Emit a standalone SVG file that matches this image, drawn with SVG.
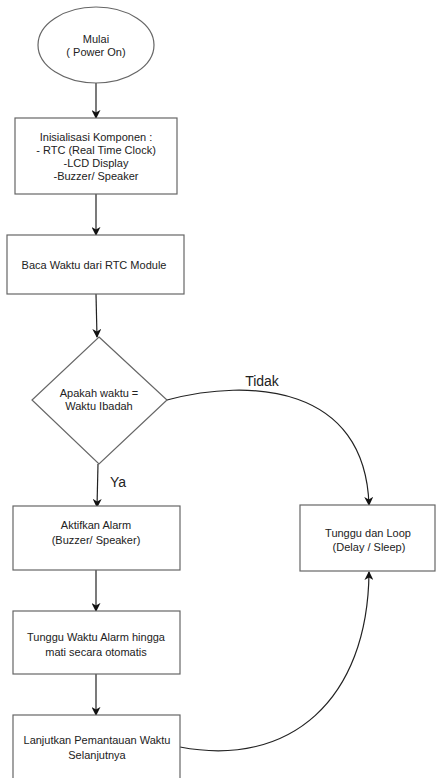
<svg xmlns="http://www.w3.org/2000/svg" width="436" height="778" viewBox="0 0 436 778">
<style>
.node{fill:#fff;stroke:#666;stroke-width:1.2}
.t{font-family:"Liberation Sans",Arial,sans-serif;font-size:11px;fill:#222;text-anchor:middle}
.lbl{font-family:"Liberation Sans",Arial,sans-serif;font-size:14px;fill:#222;text-anchor:middle}
.edge{fill:none;stroke:#222;stroke-width:1.2}
</style>
<defs>
<marker id="ah" viewBox="0 0 10 10" refX="9" refY="5" markerWidth="9" markerHeight="9" markerUnits="userSpaceOnUse" orient="auto">
<path d="M0,0 L10,5 L0,10 L3,5 Z" fill="#111"/>
</marker>
</defs>
<rect width="436" height="778" fill="#fff"/>
<g id="connectors">
<path class="edge" d="M96,83 L96,118" marker-end="url(#ah)"/>
<path class="edge" d="M96,194 L96,235" marker-end="url(#ah)"/>
<path class="edge" d="M96,294 L97,337" marker-end="url(#ah)"/>
<path class="edge" d="M98,464 L97,507" marker-end="url(#ah)"/>
<path class="edge" d="M96,570 L96,611" marker-end="url(#ah)"/>
<path class="edge" d="M96,674 L96,715" marker-end="url(#ah)"/>
<path class="edge" d="M167,400 C250,378 365,385 369,505" marker-end="url(#ah)"/>
<path class="edge" d="M180,747 C290,768 368,700 369,572" marker-end="url(#ah)"/>
<text class="lbl" x="262" y="386">Tidak</text>
<text class="lbl" x="118" y="487">Ya</text>
</g>
<g id="start">
<ellipse class="node" cx="96" cy="45" rx="58" ry="38"/>
<text class="t" x="96" y="43">Mulai</text>
<text class="t" x="96" y="56">( Power On)</text>
</g>
<g id="init">
<rect class="node" x="15" y="118" width="162" height="76"/>
<text class="t" x="96" y="141">Inisialisasi Komponen :</text>
<text class="t" x="96" y="154">- RTC (Real Time Clock)</text>
<text class="t" x="96" y="167">-LCD Display</text>
<text class="t" x="96" y="180">-Buzzer/ Speaker</text>
</g>
<g id="read">
<rect class="node" x="7" y="235" width="177" height="59"/>
<text class="t" x="94" y="269">Baca Waktu dari RTC Module</text>
</g>
<g id="decision">
<polygon class="node" points="99,337 167,400 99,464 32,400"/>
<text class="t" x="99" y="397">Apakah waktu =</text>
<text class="t" x="99" y="410">Waktu Ibadah</text>
</g>
<g id="alarm">
<rect class="node" x="13" y="506" width="167" height="64"/>
<text class="t" x="96" y="529">Aktifkan Alarm</text>
<text class="t" x="96" y="544">(Buzzer/ Speaker)</text>
</g>
<g id="loop">
<rect class="node" x="300" y="505" width="135" height="66"/>
<text class="t" x="368" y="537">Tunggu dan Loop</text>
<text class="t" x="369" y="551">(Delay / Sleep)</text>
</g>
<g id="wait">
<rect class="node" x="13" y="611" width="167" height="63"/>
<text class="t" x="96" y="641">Tunggu Waktu Alarm hingga</text>
<text class="t" x="96" y="656">mati secara otomatis</text>
</g>
<g id="continue">
<rect class="node" x="13" y="715" width="167" height="70"/>
<text class="t" x="97" y="744">Lanjutkan Pemantauan Waktu</text>
<text class="t" x="97" y="759">Selanjutnya</text>
</g>
</svg>
